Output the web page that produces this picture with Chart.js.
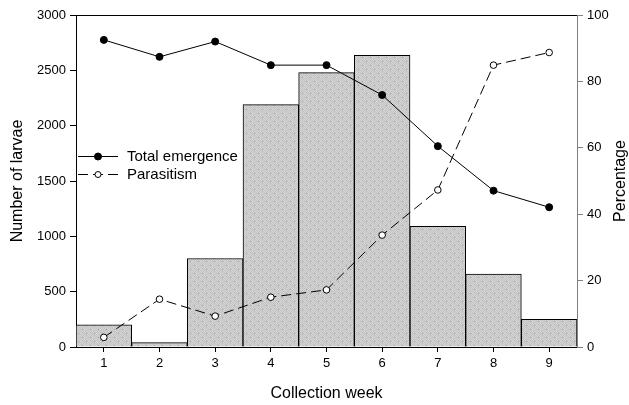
<!DOCTYPE html>
<html>
<head>
<meta charset="utf-8">
<script src="https://cdn.jsdelivr.net/npm/chart.js@4.4.1/dist/chart.umd.min.js"></script>
<style>
  html, body { margin: 0; padding: 0; background: #fff; }
  #wrap { width: 629px; height: 405px; position: relative; }
</style>
</head>
<body>
<div id="wrap"><canvas id="grafico"></canvas></div>
<script>
// datos
const semanas = ['1', '2', '3', '4', '5', '6', '7', '8', '9'];
const larvas = [200, 40, 800, 2190, 2480, 2635, 1090, 660, 250];
const emergencia = [92.5, 87.4, 92.0, 84.9, 84.9, 75.9, 60.5, 47.1, 42.1];
const parasitismo = [2.9, 14.4, 9.3, 15.0, 17.2, 33.7, 47.3, 84.9, 88.7];
const ticksLarvas = [0, 500, 1000, 1500, 2000, 2500, 3000];
const ticksPorcentaje = [0, 20, 40, 60, 80, 100];

const fuente = "'Liberation Sans', Arial, sans-serif";

// relleno punteado gris de las barras
function crearPatron() {
    const c = document.createElement('canvas');
    c.width = 8; c.height = 8;
    const g = c.getContext('2d');
    g.fillStyle = '#d4d4d4';
    g.fillRect(0, 0, 8, 8);
    for (let y = 0; y < 8; y++) {
        for (let x = 0; x < 8; x++) {
            if ((x + y) % 2 === 0) {
                g.fillStyle = '#c2c2c2';
                g.fillRect(x, y, 1, 1);
            }
        }
    }
    g.fillStyle = '#a6a6a6';
    g.fillRect(2, 1, 1, 1);
    g.fillRect(6, 5, 1, 1);
    g.fillStyle = '#e2e2e2';
    g.fillRect(4, 1, 1, 1);
    g.fillRect(0, 5, 1, 1);
    return g.createPattern(c, 'repeat');
}
const patron = crearPatron();

// borde superior, titulo derecho y leyenda
const extras = {
    id: 'extras',
    afterDraw(chart) {
        const ctx = chart.ctx;
        const a = chart.chartArea;
        ctx.save();
        ctx.strokeStyle = '#000';
        ctx.lineWidth = 1;
        ctx.beginPath();
        ctx.moveTo(a.left, a.top + 0.5);
        ctx.lineTo(a.right, a.top + 0.5);
        ctx.stroke();

        // titulo eje derecho
        ctx.fillStyle = '#000';
        ctx.font = '16px ' + fuente;
        ctx.textAlign = 'center';
        ctx.textBaseline = 'middle';
        ctx.translate(621, (a.top + a.bottom) / 2);
        ctx.rotate(-Math.PI / 2);
        ctx.fillText('Percentage', 0, 0);
        ctx.restore();

        // leyenda
        const filas = [chart.data.datasets[1], chart.data.datasets[2]];
        ctx.save();
        filas.forEach((ds, i) => {
            const y = 156 + i * 18;
            ctx.strokeStyle = '#000';
            ctx.lineWidth = 1;
            ctx.setLineDash(ds.borderDash || []);
            ctx.beginPath();
            ctx.moveTo(78, y + 0.5);
            ctx.lineTo(118, y + 0.5);
            ctx.stroke();
            ctx.setLineDash([]);
            ctx.beginPath();
            ctx.arc(98, y + 0.5, i === 0 ? 3.5 : 3, 0, Math.PI * 2);
            ctx.fillStyle = ds.pointBackgroundColor;
            ctx.fill();
            ctx.stroke();
            ctx.fillStyle = '#000';
            ctx.font = '15px ' + fuente;
            ctx.textAlign = 'left';
            ctx.textBaseline = 'middle';
            ctx.fillText(ds.label, 127, y + 1);
        });
        ctx.restore();
    }
};

new Chart(document.getElementById('grafico'), {
    data: {
        labels: semanas,
        datasets: [
            {
                type: 'bar',
                label: 'Number of larvae',
                data: larvas,
                yAxisID: 'y',
                backgroundColor: patron,
                borderColor: '#000',
                borderWidth: 1,
                barPercentage: 1,
                categoryPercentage: 1,
                order: 3
            },
            {
                type: 'line',
                label: 'Total emergence',
                data: emergencia,
                yAxisID: 'y2',
                borderColor: '#000',
                borderWidth: 1,
                pointRadius: 3.5,
                pointBackgroundColor: '#000',
                pointBorderColor: '#000',
                pointBorderWidth: 1,
                tension: 0,
                order: 1
            },
            {
                type: 'line',
                label: 'Parasitism',
                data: parasitismo,
                yAxisID: 'y2',
                borderColor: '#000',
                borderWidth: 1,
                borderDash: [10, 5],
                pointRadius: 3.3,
                pointBackgroundColor: '#fff',
                pointBorderColor: '#000',
                pointBorderWidth: 1,
                tension: 0,
                order: 2
            }
        ]
    },
    options: {
        responsive: true,
        maintainAspectRatio: false,
        animation: false,
        layout: { padding: { top: 15, left: 0, right: 0, bottom: 0 } },
        plugins: {
            legend: { display: false },
            tooltip: { enabled: false }
        },
        scales: {
            x: {
                type: 'category',
                offset: true,
                grid: { offset: false, drawOnChartArea: false, drawTicks: true, tickLength: 5, color: '#000' },
                border: { color: '#000', width: 1 },
                ticks: { color: '#000', font: { family: fuente, size: 13 }, padding: 4, maxRotation: 0 },
                title: { display: true, text: 'Collection week', color: '#000', font: { family: fuente, size: 16 }, padding: { top: 0, bottom: 2 } },
                afterFit(s) { s.height = 58; }
            },
            y: {
                position: 'left',
                min: 0,
                max: 3000,
                afterBuildTicks(s) { s.ticks = ticksLarvas.map(v => ({ value: v })); },
                grid: { drawOnChartArea: false, drawTicks: true, tickLength: 6, color: '#000' },
                border: { color: '#000', width: 1 },
                ticks: { color: '#000', font: { family: fuente, size: 13 }, padding: 4, callback: v => String(v) },
                title: { display: true, text: 'Number of larvae', color: '#000', font: { family: fuente, size: 16 }, padding: { top: 8, bottom: 0 } },
                afterFit(s) { s.width = 76; }
            },
            y2: {
                position: 'right',
                min: 0,
                max: 100,
                afterBuildTicks(s) { s.ticks = ticksPorcentaje.map(v => ({ value: v })); },
                grid: { drawOnChartArea: false, drawTicks: true, tickLength: 6, color: '#808080' },
                border: { color: '#808080', width: 1 },
                ticks: { color: '#000', font: { family: fuente, size: 13 }, padding: 4, callback: v => String(v) },
                afterFit(s) { s.width = 52; }
            }
        }
    },
    plugins: [extras]
});
</script>
</body>
</html>
